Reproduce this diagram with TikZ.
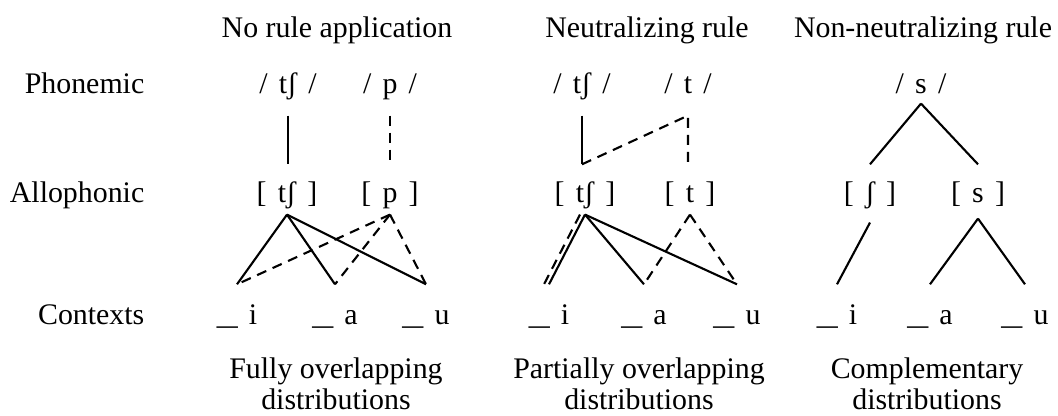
\documentclass[tikz,border=0pt]{standalone}
\usepackage{fontspec}
\setmainfont{Liberation Serif}
\newfontfamily\segfont{Liberation Serif}[WordSpace=1.5]
\newcommand\ctxbar{\scalebox{1.4}[1]{\_}}
\tikzset{
  lbl/.style={font=\fontsize{8.5}{8.8}\selectfont, inner sep=0pt,
              text height=6.4pt, text depth=2.1pt, anchor=base},
  seg/.style={lbl, font=\fontsize{8.5}{8.8}\segfont},
  desc/.style={font=\fontsize{8.5}{8.8}\selectfont, inner sep=0pt,
               align=center, anchor=north},
  link/.style={line width=0.6pt},
  dlink/.style={line width=0.6pt, dash pattern=on 1mm off 0.7mm},
}

\begin{document}
\begin{tikzpicture}[x=0.1mm, y=-0.1mm]
    \useasboundingbox (0,0) rectangle (1058,415);

    % Column headers
    \node[lbl] (h1) at (337,37) {No rule application};
    \node[lbl] (h2) at (647,37) {Neutralizing rule};
    \node[lbl] (h3) at (923,37) {Non-neutralizing rule};

    % Row labels
    \node[lbl, anchor=base east] (r1) at (145,93) {Phonemic};
    \node[lbl, anchor=base east] (r2) at (145,202) {Allophonic};
    \node[lbl, anchor=base east] (r3) at (145,324) {Contexts};

    % No rule application
    \node[seg] (p1) at (288,93) {/ tʃ /};
    \node[seg] (p2) at (390,93) {/ p /};
    \node[seg] (a1) at (287,202) {[ tʃ ]};
    \node[seg] (a2) at (390,202) {[ p ]};
    \node[seg] (c1) at (237,324) {\ctxbar{} i};
    \node[seg] (c2) at (335,324) {\ctxbar{} a};
    \node[seg] (c3) at (426,324) {\ctxbar{} u};

    \draw[link] ([yshift=-1.45mm]p1.south) -- ([yshift=1.45mm]p1.south |- a1.north);
    \draw[dlink] ([yshift=-1.45mm]p2.south) -- ([yshift=1.45mm]a2.north);
    \foreach \c in {c1,c2,c3} {
        \draw[link] ([yshift=-0.45mm]a1.south) -- ([yshift=1.65mm]\c.north);
        \draw[dlink] ([yshift=-0.45mm]a2.south) -- ([yshift=1.65mm]\c.north);
    }

    % Neutralizing rule
    \node[seg] (p3) at (582,93) {/ tʃ /};
    \node[seg] (p4) at (688,93) {/ t /};
    \node[seg] (a3) at (585,202) {[ tʃ ]};
    \node[seg] (a4) at (690,202) {[ t ]};
    \node[seg] (c4) at (549,324) {\ctxbar{} i};
    \node[seg] (c5) at (644,324) {\ctxbar{} a};
    \node[seg] (c6) at (737,324) {\ctxbar{} u};

    \draw[link] ([yshift=-1.45mm]p3.south) -- ([yshift=1.45mm]p3.south |- a3.north);
    \draw[dlink] ([yshift=1.45mm]p3.south |- a3.north) -- ([yshift=-1.45mm]p4.south)
        -- ([yshift=1.45mm]p4.south |- a4.north);
    \foreach \c in {c4,c5,c6}
        \draw[link] ([yshift=-0.45mm]a3.south) -- ([yshift=1.65mm]\c.north);
    \draw[dlink] ([xshift=-0.5mm, yshift=-0.45mm]a3.south)
        -- ([xshift=-0.5mm, yshift=1.65mm]c4.north);
    \foreach \c in {c5,c6}
        \draw[dlink] ([yshift=-0.45mm]a4.south) -- ([yshift=1.65mm]\c.north);

    % Non-neutralizing rule
    \node[seg] (p5) at (921,93) {/ s /};
    \node[seg] (a5) at (870,202) {[ ʃ ]};
    \node[seg] (a6) at (978,202) {[ s ]};
    \node[seg] (c7) at (837,324) {\ctxbar{} i};
    \node[seg] (c8) at (930,324) {\ctxbar{} a};
    \node[seg] (c9) at (1025,324) {\ctxbar{} u};

    \draw[link] ([yshift=-0.25mm]p5.south) -- ([yshift=1.45mm]a5.north);
    \draw[link] ([yshift=-0.25mm]p5.south) -- ([yshift=1.45mm]a6.north);
    \draw[link] ([yshift=-1.25mm]a5.south) -- ([yshift=1.65mm]c7.north);
    \draw[link] ([yshift=-0.85mm]a6.south) -- ([yshift=1.65mm]c8.north);
    \draw[link] ([yshift=-0.85mm]a6.south) -- ([yshift=1.65mm]c9.north);

    % Distribution types
    \node[desc] (d1) at (336,357) {Fully overlapping\\distributions};
    \node[desc] (d2) at (639,357) {Partially overlapping\\distributions};
    \node[desc] (d3) at (927,357) {Complementary\\distributions};
\end{tikzpicture}
\end{document}
